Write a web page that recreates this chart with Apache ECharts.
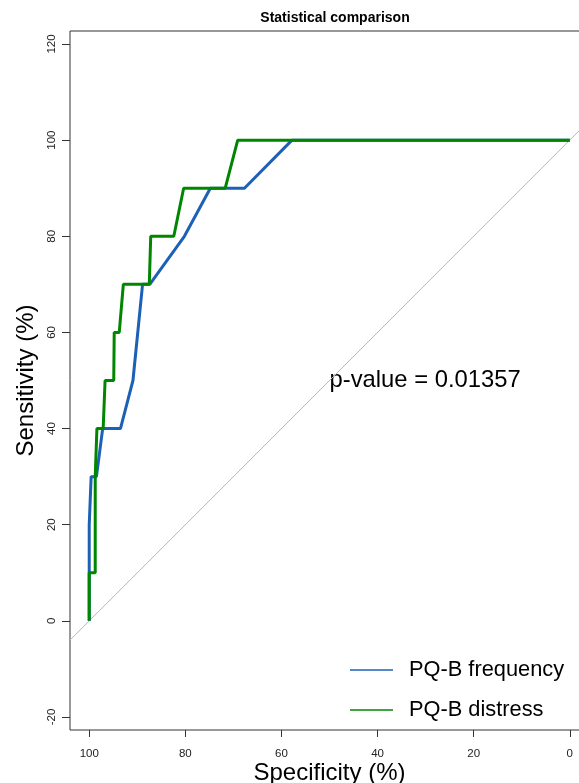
<!DOCTYPE html>
<html>
<head>
<meta charset="utf-8">
<script src="https://cdn.jsdelivr.net/npm/echarts@6/dist/echarts.min.js"></script>
<style>
  html, body { margin: 0; padding: 0; background: #fff; }
  #chart { width: 579px; height: 783px; }
</style>
</head>
<body>
<div id="chart"></div>
<script>
// ROC curves, specificity on a reversed x axis
const freqSpec = [100, 100, 99.6, 99.6, 98.5, 97.2, 93.5, 90.9, 88.9, 87.4, 80.2, 74.8, 67.7, 57.8, 0]
const freqSens = [0, 20, 20, 30, 30, 40, 40, 50, 70, 70, 80, 90, 90, 100, 100]

const distSpec = [100, 100, 98.75, 98.75, 98.4, 97.1, 96.7, 94.9, 94.8, 93.75, 92.9, 87.5, 87.2, 82.4, 80.35, 71.7, 69.1, 0]
const distSens = [0, 10, 10, 30, 40, 40, 50, 50, 60, 60, 70, 70, 80, 80, 90, 90, 100, 100]

// chance line, spans the whole plot box
const diagSpec = [104, -4]
const diagSens = [-4, 104]

const xTicks = [0, 20, 40, 60, 80, 100]
const yTicks = [-20, 0, 20, 40, 60, 80, 100, 120]

const seriesNames = ['PQ-B frequency', 'PQ-B distress']
const pText = 'p-value = 0.01357'
const pPos = [50, 50]

const font = 'Liberation Sans, Arial, sans-serif'
const zip = (a, b) => a.map((v, i) => [v, b[i]])

const myChart = echarts.init(document.getElementById('chart'))
const option = {
  animation: false,
  title: {
    text: 'Statistical comparison',
    left: 330,
    top: 6,
    textAlign: 'center',
    textStyle: { fontFamily: font, fontSize: 14, fontWeight: 'bold', color: '#000' }
  },
  legend: {
    data: seriesNames,
    orient: 'vertical',
    left: 345,
    top: 654,
    icon: 'rect',
    itemWidth: 43,
    itemHeight: 1.5,
    itemGap: 18,
    textStyle: {
      fontFamily: font,
      fontSize: 21.8,
      lineHeight: 22,
      color: '#000',
      padding: [0, 0, 0, 11]
    }
  },
  grid: {
    left: 70,
    top: 31,
    width: 519,
    height: 699,
    outerBoundsMode: 'none',
    containLabel: false,
    show: true,
    borderColor: '#333',
    borderWidth: 1
  },
  xAxis: {
    type: 'value',
    inverse: true,
    min: -4,
    max: 104,
    name: 'Specificity (%)',
    nameLocation: 'middle',
    nameGap: 31,
    nameMoveOverlap: false,
    nameTextStyle: { fontFamily: font, fontSize: 24, color: '#000' },
    axisLine: { show: false, onZero: false },
    splitLine: { show: false },
    axisTick: { show: true, length: 7, lineStyle: { color: '#333' }, customValues: xTicks },
    axisLabel: { fontFamily: font, fontSize: 11.5, color: '#222', margin: 18, customValues: xTicks }
  },
  yAxis: {
    type: 'value',
    min: -22.7,
    max: 122.7,
    name: 'Sensitivity (%)',
    nameLocation: 'middle',
    nameGap: 32,
    nameMoveOverlap: false,
    nameTextStyle: { fontFamily: font, fontSize: 24, color: '#000' },
    axisLine: { show: false, onZero: false },
    splitLine: { show: false },
    axisTick: { show: true, length: 8, lineStyle: { color: '#333' }, customValues: yTicks },
    axisLabel: { fontFamily: font, fontSize: 11.5, color: '#222', margin: 12, rotate: 90, customValues: yTicks }
  },
  series: [
    {
      name: 'diag',
      type: 'line',
      data: zip(diagSpec, diagSens),
      symbol: 'none',
      silent: true,
      lineStyle: { color: '#b8b8b8', width: 1 }
    },
    {
      name: seriesNames[0],
      type: 'line',
      data: zip(freqSpec, freqSens),
      symbol: 'none',
      color: '#1c61b6',
      lineStyle: { color: '#1c61b6', width: 3 }
    },
    {
      name: seriesNames[1],
      type: 'line',
      data: zip(distSpec, distSens),
      symbol: 'none',
      color: '#008600',
      lineStyle: { color: '#008600', width: 3 }
    },
    {
      name: 'pvalue',
      type: 'scatter',
      data: [pPos],
      symbolSize: 0,
      silent: true,
      itemStyle: { opacity: 1 },
      label: {
        show: true,
        position: 'right',
        distance: 0,
        formatter: pText,
        fontFamily: font,
        fontSize: 23.8,
        color: '#000'
      }
    }
  ]
}
myChart.setOption(option)
</script>
</body>
</html>
